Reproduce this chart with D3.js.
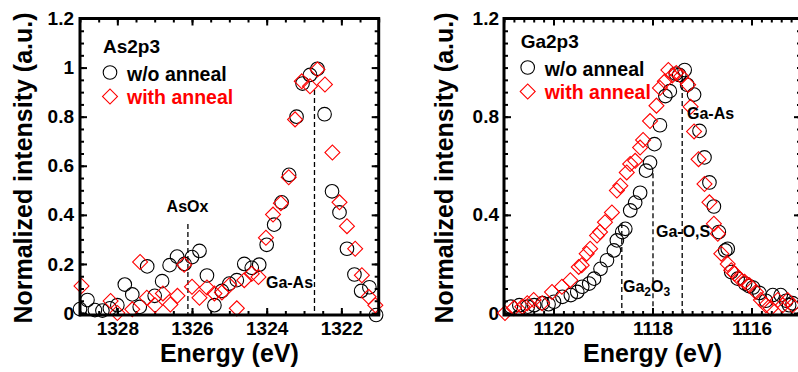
<!DOCTYPE html>
<html>
<head>
<meta charset="utf-8">
<script src="https://cdn.jsdelivr.net/npm/d3@7"></script>
<style>
body{margin:0;background:#fff}
svg text{font-family:"Liberation Sans",Arial,sans-serif;font-weight:bold}
</style>
</head>
<body>
<div id="app"></div>
<script>

// As2p3 spectra, [energy eV, normalized intensity]
var asWithout = [[1329.0,0.016],[1328.8,0.053],[1328.6,0.012],[1328.4,0.01],[1328.2,0.019],[1328.0,0.032],[1327.8,0.116],[1327.6,0.076],[1327.4,0.025],[1327.2,0.19],[1327.0,0.07],[1326.8,0.13],[1326.6,0.195],[1326.4,0.23],[1326.2,0.2],[1326.0,0.228],[1325.8,0.253],[1325.6,0.153],[1325.4,0.032],[1325.2,0.09],[1325.0,0.12],[1324.8,0.134],[1324.6,0.2],[1324.4,0.184],[1324.2,0.197],[1324.0,0.278],[1323.8,0.36],[1323.6,0.451],[1323.4,0.563],[1323.2,0.8],[1323.04,0.935],[1322.84,0.97],[1322.64,0.995],[1322.45,0.81],[1322.25,0.496],[1322.05,0.41],[1321.85,0.262],[1321.65,0.157],[1321.47,0.09],[1321.25,0.105],[1321.07,-0.008]]
var asWith = [[1328.96,0.11],[1328.18,0.049],[1328.0,0.0],[1327.6,0.015],[1327.39,0.208],[1327.21,0.062],[1326.99,0.032],[1326.78,0.08],[1326.58,0.035],[1326.39,0.07],[1326.21,0.197],[1326.0,0.107],[1325.8,0.062],[1325.6,0.104],[1325.4,0.08],[1325.2,0.084],[1325.0,0.113],[1324.8,0.019],[1324.6,0.134],[1324.4,0.16],[1324.22,0.147],[1324.02,0.307],[1323.83,0.401],[1323.62,0.447],[1323.41,0.553],[1323.24,0.789],[1323.06,0.944],[1322.84,0.924],[1322.64,0.992],[1322.44,0.931],[1322.24,0.654],[1322.05,0.451],[1321.85,0.354],[1321.63,0.262],[1321.45,0.154],[1321.27,0.066],[1321.09,0.032]]

// Ga2p3 spectra
var gaWithout = [[1120.86,0.026],[1120.69,0.032],[1120.52,0.026],[1120.39,0.032],[1120.22,0.04],[1120.1,0.036],[1119.99,0.046],[1119.82,0.066],[1119.65,0.073],[1119.52,0.086],[1119.42,0.107],[1119.28,0.12],[1119.18,0.14],[1119.05,0.18],[1118.92,0.215],[1118.78,0.255],[1118.72,0.296],[1118.61,0.33],[1118.55,0.343],[1118.45,0.418],[1118.35,0.45],[1118.25,0.49],[1118.13,0.58],[1118.05,0.613],[1117.96,0.688],[1117.85,0.765],[1117.74,0.884],[1117.65,0.904],[1117.53,0.975],[1117.46,0.97],[1117.35,0.99],[1117.3,0.93],[1117.16,0.89],[1117.05,0.742],[1116.95,0.634],[1116.85,0.532],[1116.76,0.434],[1116.66,0.33],[1116.53,0.255],[1116.48,0.262],[1116.41,0.167],[1116.28,0.14],[1116.13,0.12],[1116.05,0.11],[1115.97,0.104],[1115.84,0.082],[1115.71,0.05],[1115.57,0.073],[1115.41,0.073],[1115.3,0.05],[1115.24,0.032],[1115.17,0.04]]
var gaWith = [[1120.98,0.0],[1120.8,0.02],[1120.63,0.026],[1120.53,0.04],[1120.4,0.053],[1120.23,0.04],[1120.03,0.086],[1119.83,0.107],[1119.66,0.134],[1119.49,0.188],[1119.43,0.195],[1119.33,0.242],[1119.26,0.262],[1119.12,0.316],[1119.06,0.33],[1118.96,0.37],[1118.82,0.41],[1118.72,0.499],[1118.65,0.519],[1118.52,0.573],[1118.45,0.607],[1118.35,0.62],[1118.25,0.674],[1118.19,0.705],[1118.05,0.782],[1117.92,0.845],[1117.85,0.917],[1117.75,0.944],[1117.68,0.99],[1117.6,0.968],[1117.52,0.978],[1117.42,0.965],[1117.28,0.93],[1117.23,0.84],[1117.16,0.74],[1117.07,0.627],[1116.95,0.526],[1116.85,0.451],[1116.76,0.364],[1116.68,0.323],[1116.61,0.242],[1116.48,0.2],[1116.41,0.174],[1116.34,0.161],[1116.24,0.14],[1116.14,0.127],[1116.04,0.113],[1115.91,0.086],[1115.81,0.053],[1115.71,0.032],[1115.61,0.019],[1115.47,0.053],[1115.37,0.032],[1115.27,0.053],[1115.17,0.032]]

// ticks
var asXMajor = [1328,1326,1324,1322]
var asXMinor = d3.range(1321,1329.01,0.5)
var asYMajor = [0,0.2,0.4,0.6,0.8,1,1.2]
var gaXMajor = [1120,1118,1116]
var gaXMinor = d3.range(1115,1121.01,0.2)
var gaYMajor = [0,0.4,0.8,1.2]
var yMinor = d3.range(0,1.201,0.05)

// peak markers: [energy, top of dashed line]
var asMarkers = [[1326.11,0.363],[1322.72,0.909]]
var gaMarkers = [[1118.62,0.367],[1117.99,0.57],[1117.40,0.962]]

var seriesNames = ["w/o anneal","with anneal"]

var svg = d3.select("#app").append("svg").attr("width",798).attr("height",372)

function styleAxis(g,size){
  g.select(".domain").remove()
  g.attr("font-family",null).attr("font-size",size)
  g.selectAll("line").attr("stroke","#000").attr("stroke-width",2)
}

function makePanel(o){
  var x = d3.scaleLinear().domain(o.xDomain).range([o.left,o.right])
  var y = d3.scaleLinear().domain([-0.008,1.2]).range([315,18.5])
  var g = svg.append("g")

  // minor ticks on all four sides
  g.append("g").attr("transform","translate(0,315)")
    .call(d3.axisBottom(x).tickValues(o.xMinor).tickSize(-4).tickFormat("")).call(styleAxis,19)
  g.append("g").attr("transform","translate(0,18.5)")
    .call(d3.axisTop(x).tickValues(o.xMinor).tickSize(-4).tickFormat("")).call(styleAxis,19)
  g.append("g").attr("transform","translate("+o.left+",0)")
    .call(d3.axisLeft(y).tickValues(yMinor).tickSize(-4).tickFormat("")).call(styleAxis,19)
  g.append("g").attr("transform","translate("+o.right+",0)")
    .call(d3.axisRight(y).tickValues(yMinor).tickSize(-4).tickFormat("")).call(styleAxis,19)

  // major ticks + labels
  g.append("g").attr("transform","translate(0,315)")
    .call(d3.axisBottom(x).tickValues(o.xMajor).tickSize(-7).tickPadding(7).tickFormat(d3.format("d"))).call(styleAxis,19)
  g.append("g").attr("transform","translate(0,18.5)")
    .call(d3.axisTop(x).tickValues(o.xMajor).tickSize(-7).tickFormat("")).call(styleAxis,19)
  g.append("g").attr("transform","translate("+o.left+",0)")
    .call(d3.axisLeft(y).tickValues(o.yMajor).tickSize(-7).tickPadding(o.yPad).tickFormat(d3.format("~g"))).call(styleAxis,19)
  g.append("g").attr("transform","translate("+o.right+",0)")
    .call(d3.axisRight(y).tickValues(o.yMajor).tickSize(-7).tickFormat("")).call(styleAxis,19)

  // dashed peak markers
  g.selectAll(".marker").data(o.markers).enter().append("line")
    .attr("x1",d=>x(d[0])).attr("x2",d=>x(d[0]))
    .attr("y1",d=>y(d[1])).attr("y2",315)
    .attr("stroke","#000").attr("stroke-width",1.3).attr("stroke-dasharray","5,3")

  // data
  g.selectAll(".wo").data(o.without).enter().append("circle")
    .attr("cx",d=>x(d[0])).attr("cy",d=>y(d[1])).attr("r",6.8)
    .attr("fill","none").attr("stroke","#000").attr("stroke-width",1.1)
  var diamond = d3.symbol(d3.symbolSquare,112)
  g.selectAll(".wi").data(o.with).enter().append("path")
    .attr("d",diamond)
    .attr("transform",d=>"translate("+x(d[0])+","+y(d[1])+") rotate(45)")
    .attr("fill","none").attr("stroke","#ff0000").attr("stroke-width",1.1)

  // frame
  g.append("rect").attr("x",o.left).attr("y",18.5)
    .attr("width",o.right-o.left).attr("height",315-18.5)
    .attr("fill","none").attr("stroke","#000").attr("stroke-width",3)

  // legend
  var lg = g.append("g").attr("transform","translate("+o.legend[0]+","+o.legend[1]+")")
  lg.append("text").text(o.title).attr("x",-7).attr("y",-20).attr("font-size",19)
  lg.append("circle").attr("cx",0).attr("cy",0).attr("r",6.8)
    .attr("fill","none").attr("stroke","#000").attr("stroke-width",1.1)
  lg.append("text").text(seriesNames[0]).attr("x",17).attr("y",8).attr("font-size",19.5)
  lg.append("path").attr("d",diamond).attr("transform","translate(0,24) rotate(45)")
    .attr("fill","none").attr("stroke","#ff0000").attr("stroke-width",1.1)
  lg.append("text").text(seriesNames[1]).attr("x",17).attr("y",31.5).attr("font-size",19.5).attr("fill","#ff0000")

  // axis titles
  svg.append("text").text("Energy (eV)").attr("x",(o.left+o.right)/2).attr("y",362)
    .attr("text-anchor","middle").attr("font-size",25)
  svg.append("text").text("Normalized intensity (a.u.)")
    .attr("transform","translate("+o.ytitleX+",168) rotate(-90)")
    .attr("text-anchor","middle").attr("font-size",25)

  // peak labels; parts are [text, dy, font size]
  o.notes.forEach(function(n){
    var t = g.append("text").attr("x",n.x).attr("y",n.y).attr("font-size",16).attr("text-anchor",n.anchor||"start")
    n.parts.forEach(function(p){
      var ts = t.append("tspan").text(p[0])
      if (p[1]) ts.attr("dy",p[1])
      if (p[2]) ts.attr("font-size",p[2])
    })
  })
  return {x,y,g}
}

makePanel({
  xDomain:[1329,1321], left:80, right:378.7,
  xMajor:asXMajor, xMinor:asXMinor, yMajor:asYMajor, yPad:6,
  without:asWithout, with:asWith, markers:asMarkers,
  title:"As2p3", legend:[110,72.5], ytitleX:32,
  notes:[
    {x:187.5,y:212,anchor:"middle",parts:[["AsOx"]]},
    {x:289.5,y:288,anchor:"middle",parts:[["Ga-As"]]}
  ]
})

makePanel({
  xDomain:[1121,1115], left:504, right:801,
  xMajor:gaXMajor, xMinor:gaXMinor, yMajor:gaYMajor, yPad:5,
  without:gaWithout, with:gaWith, markers:gaMarkers,
  title:"Ga2p3", legend:[527.7,67.5], ytitleX:453,
  notes:[
    {x:687,y:119,parts:[["Ga-As"]]},
    {x:656,y:237,parts:[["Ga-O,S"]]},
    {x:623,y:292,parts:[["Ga"],["2",4,12],["O",-4,16],["3",4,12]]}
  ]
})

</script>
</body>
</html>
